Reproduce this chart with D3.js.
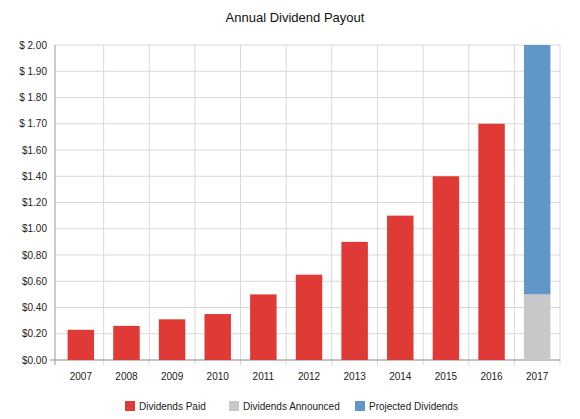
<!DOCTYPE html>
<html><head><meta charset="utf-8">
<script src="https://cdn.jsdelivr.net/npm/d3@7"></script>
<style>body{margin:0;background:#fff;font-family:Arial,"Liberation Sans",sans-serif}</style>
</head><body><div id="chart"></div>
<script>
const years = ["2007","2008","2009","2010","2011","2012","2013","2014","2015","2016","2017"];
const paid = [0.23,0.26,0.31,0.35,0.50,0.65,0.90,1.10,1.40,1.70,0];
const announced = [0,0,0,0,0,0,0,0,0,0,0.50];
const projected = [0,0,0,0,0,0,0,0,0,0,1.50];
const tickValues = [0,0.2,0.4,0.6,0.8,1.0,1.2,1.4,1.6,1.7,1.8,1.9,2.0];
const tickLabels = ["$0.00","$0.20","$0.40","$0.60","$0.80","$1.00","$1.20","$1.40","$1.60","$ 1.70","$ 1.80","$ 1.90","$ 2.00"];
const seriesNames = ["Dividends Paid","Dividends Announced","Projected Dividends"];
const colors = ["#e03a36","#c8c8c8","#6096c8"];

const W = 580, H = 419, m = {top:45, right:20, bottom:59, left:55};
const svg = d3.select("#chart").append("svg").attr("width",W).attr("height",H);

const x = d3.scaleBand().domain(years).range([m.left+3, W-m.right]).paddingInner(0.42).paddingOuter(0.21);
const grid = d3.scaleBand().domain(years).range([m.left+3, W-m.right]);
const y = d3.scaleLinear().domain(tickValues)
  .range(tickValues.map((d,i)=> H-m.bottom - i*(H-m.bottom-m.top)/(tickValues.length-1)));

// grid
svg.append("g").selectAll("line").data(tickValues).join("line")
  .attr("x1",m.left).attr("x2",W-m.right).attr("y1",d=>y(d)).attr("y2",d=>y(d))
  .attr("stroke","#d8d8d8");
svg.append("g").selectAll("line").data(years).join("line")
  .attr("x1",d=>grid(d)+grid.step()).attr("x2",d=>grid(d)+grid.step())
  .attr("y1",m.top).attr("y2",H-m.bottom+5).attr("stroke","#d8d8d8");
svg.append("line").attr("x1",m.left).attr("x2",m.left).attr("y1",m.top).attr("y2",H-m.bottom+5).attr("stroke","#999");
svg.append("line").attr("x1",m.left-5).attr("x2",W-m.right).attr("y1",y(0)).attr("y2",y(0)).attr("stroke","#999");

// bars
const stack = d3.stack().keys([0,1,2]).value((d,k)=>d[k])(years.map((yr,i)=>[paid[i],announced[i],projected[i]]));
stack.forEach((layer,k)=>{
  svg.append("g").attr("fill",colors[k]).selectAll("rect").data(layer).join("rect")
    .attr("x",(d,i)=>x(years[i])).attr("width",x.bandwidth())
    .attr("y",d=>y(d[1])).attr("height",d=>y(d[0])-y(d[1]));
});

// axes
svg.append("g").attr("transform",`translate(${m.left},0)`)
  .call(d3.axisLeft(y).tickValues(tickValues).tickFormat((d,i)=>tickLabels[i]).tickSize(0).tickPadding(8))
  .call(g=>g.select(".domain").remove())
  .selectAll("text").attr("font-size",10).attr("fill","#222").attr("font-family","Arial, Liberation Sans");
svg.append("g").attr("transform",`translate(0,${H-m.bottom})`)
  .call(d3.axisBottom(grid).tickSize(0).tickPadding(13))
  .call(g=>g.select(".domain").remove())
  .selectAll("text").attr("font-size",10).attr("fill","#222").attr("font-family","Arial, Liberation Sans");

svg.append("text").attr("x",W/2+5).attr("y",22).attr("text-anchor","middle")
  .attr("font-size",13).attr("fill","#111").text("Annual Dividend Payout");

// legend
const lx = [125,229,355];
const lg = svg.append("g").selectAll("g").data(seriesNames).join("g")
  .attr("transform",(d,i)=>`translate(${lx[i]},401)`);
lg.append("rect").attr("width",10).attr("height",10).attr("fill",(d,i)=>colors[i]);
lg.append("text").attr("x",14).attr("y",9).attr("font-size",10).attr("fill","#222").text(d=>d);
</script></body></html>
